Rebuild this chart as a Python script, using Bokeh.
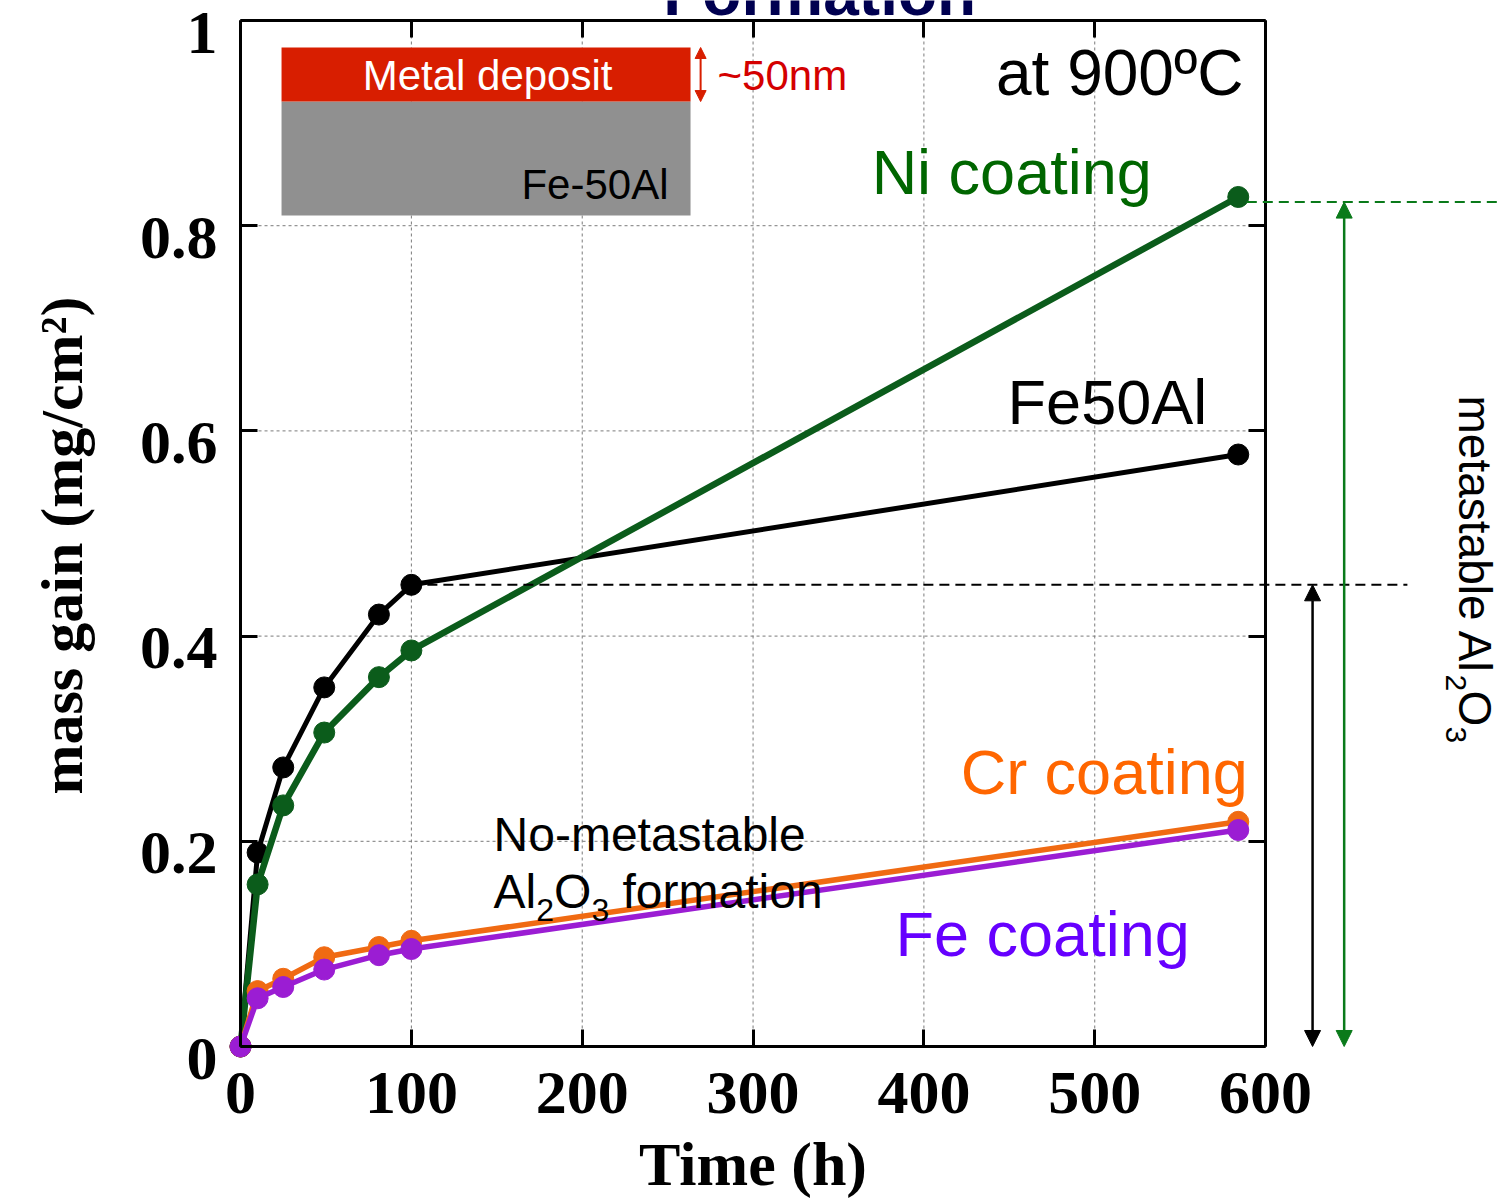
from bokeh.plotting import figure
from bokeh.models import (Range1d, LinearAxis, Label, Arrow, NormalHead,
                          FixedTicker, BoxAnnotation)
from bokeh.embed import file_html
from bokeh.resources import INLINE

# Oxidation at 900 °C: mass gain vs exposure time
time_h = [0, 10, 25, 49, 81, 100, 584]
fe50al = [0.0, 0.189, 0.272, 0.350, 0.421, 0.450, 0.577]
ni_coat = [0.0, 0.158, 0.235, 0.306, 0.360, 0.386, 0.828]
cr_coat = [0.0, 0.054, 0.066, 0.087, 0.097, 0.103, 0.219]
fe_coat = [0.0, 0.047, 0.058, 0.075, 0.089, 0.095, 0.211]

x_ticks = [0, 100, 200, 300, 400, 500, 600]
y_ticks = [0, 0.2, 0.4, 0.6, 0.8, 1]
y_tick_text = ["0", "0.2", "0.4", "0.6", "0.8", "1"]

X_MAX, Y_MAX = 600, 1            # the axes box
# the frame covers the whole canvas; the box sits inside it
X_VIEW = (-140.5, 737.5)
Y_VIEW = (-0.1501, 1.0195)
Y_LABEL_DROP = 0.0117            # y tick labels sit slightly below their ticks

SANS = "Liberation Sans"
SERIF = "Liberation Serif"

p = figure(width=1500, height=1200, output_backend="svg", toolbar_location=None,
           x_range=Range1d(*X_VIEW), y_range=Range1d(*Y_VIEW),
           min_border_left=0, min_border_right=0,
           min_border_top=0, min_border_bottom=0,
           outline_line_color=None, background_fill_color="white",
           border_fill_color="white")
p.extra_y_ranges = {"ylab": Range1d(Y_VIEW[0] + Y_LABEL_DROP, Y_VIEW[1] + Y_LABEL_DROP)}
p.xaxis.visible = False
p.yaxis.visible = False
p.xgrid.visible = False
p.ygrid.visible = False

# dotted grid inside the box
GRID = dict(line_color="#7a7a7a", line_width=1, line_dash="3 3", level="underlay")
inner_x = x_ticks[1:-1]
inner_y = y_ticks[1:-1]
p.segment(x0=inner_x, x1=inner_x, y0=[0] * len(inner_x), y1=[Y_MAX] * len(inner_x), **GRID)
p.segment(x0=[0] * len(inner_y), x1=[X_MAX] * len(inner_y), y0=inner_y, y1=inner_y, **GRID)


def box_axis(ticks, loc, bounds, labels=None, line=True, **kw):
    ax = LinearAxis(ticker=FixedTicker(ticks=ticks), fixed_location=loc, bounds=bounds, **kw)
    ax.axis_line_width = 3
    ax.axis_line_color = "black" if line else None
    ax.major_tick_in = 17 if line else 0
    ax.major_tick_out = 0
    ax.major_tick_line_width = 3
    ax.major_tick_line_color = "black" if line else None
    ax.minor_tick_line_color = None
    ax.major_label_overrides = dict(zip(ticks, labels if labels else [""] * len(ticks)))
    ax.major_label_text_font = SERIF
    ax.major_label_text_font_style = "bold"
    ax.major_label_text_font_size = "62px"
    ax.major_label_text_color = "black"
    return ax


bottom = box_axis(x_ticks, 0, (0, X_MAX), [str(t) for t in x_ticks])
bottom.major_label_standoff = 27
p.add_layout(bottom, "below")

left = box_axis(y_ticks, 0, (0, Y_MAX))
left.major_label_standoff = 0
p.add_layout(left, "left")

# y tick labels on their own (label-only) axis
left_labels = box_axis(y_ticks, 0, (0, Y_MAX), y_tick_text, line=False,
                       y_range_name="ylab")
left_labels.major_label_standoff = 23
p.add_layout(left_labels, "left")

top = box_axis(x_ticks, Y_MAX, (0, X_MAX))
top.major_label_standoff = 0
p.add_layout(top, "above")

right = box_axis(y_ticks, X_MAX, (0, Y_MAX))
right.major_label_standoff = 0
p.add_layout(right, "right")

# data series
series = [
    (fe50al, "#000000", 5),
    (ni_coat, "#0b5c1b", 6.5),
    (cr_coat, "#f06a12", 5.5),
    (fe_coat, "#9b1dd3", 5.5),
]
for ys, color, lw in series:
    p.line(time_h, ys, line_color=color, line_width=lw)
    p.scatter(time_h, ys, size=21, fill_color=color, line_color=color)

# metastable Al2O3 guides
GREEN = "#0a7a1a"
fe_plateau = fe50al[5]
ni_final = ni_coat[-1] - 0.005
p.add_layout(Arrow(start=None, end=None, x_start=100, y_start=fe_plateau,
                   x_end=683, y_end=fe_plateau, line_color="black",
                   line_width=2, line_dash="10 6"))
p.add_layout(Arrow(start=None, end=None, x_start=589, y_start=ni_final,
                   x_end=X_VIEW[1], y_end=ni_final, line_color=GREEN,
                   line_width=2, line_dash="10 6"))
p.add_layout(Arrow(start=NormalHead(size=16, fill_color="black", line_color="black"),
                   end=NormalHead(size=16, fill_color="black", line_color="black"),
                   x_start=627.5, y_start=0, x_end=627.5, y_end=fe_plateau,
                   line_color="black", line_width=2.5))
p.add_layout(Arrow(start=NormalHead(size=16, fill_color=GREEN, line_color=GREEN),
                   end=NormalHead(size=16, fill_color=GREEN, line_color=GREEN),
                   x_start=646, y_start=0, x_end=646, y_end=ni_final,
                   line_color=GREEN, line_width=2.5))

# inset sketch: metal deposit on Fe-50Al
RED = "#d81e00"
p.add_layout(BoxAnnotation(left=24, right=263.4, bottom=0.810, top=0.921,
                           fill_color="#909090", fill_alpha=1, line_color=None))
p.add_layout(BoxAnnotation(left=24, right=263.4, bottom=0.921, top=0.9737,
                           fill_color=RED, fill_alpha=1, line_color=None))
p.add_layout(Arrow(start=NormalHead(size=11, fill_color=RED, line_color=RED),
                   end=NormalHead(size=11, fill_color=RED, line_color=RED),
                   x_start=269.3, y_start=0.921, x_end=269.3, y_end=0.9737,
                   line_color=RED, line_width=2))

HALF_PI = 1.5707963


def add_text(x, y, text, size, color="black", align="left", font=SANS,
             style="normal", angle=0.0):
    # shift so that (x, y) is the alphabetic baseline of the glyphs
    lift = round(0.375 * size)
    if angle > 0:
        xo, yo = -lift, 0
    elif angle < 0:
        xo, yo = lift, 0
    else:
        xo, yo = 0, lift
    p.add_layout(Label(x=x, y=y, text=text, text_font=font,
                       text_font_size=f"{size}px", text_font_style=style,
                       text_color=color, text_align=align,
                       text_baseline="alphabetic", angle=angle,
                       x_offset=xo, y_offset=yo))


# axis titles
add_text(300, -0.1365, "Time (h)", 62, font=SERIF, style="bold", align="center")
add_text(-91.9, 0.4883, "mass gain (mg/cm²)", 60, font=SERIF, style="bold",
         align="center", angle=HALF_PI)

add_text(144.6, 0.931, "Metal deposit", 42, color="white", align="center")
add_text(250.5, 0.8246, "Fe-50Al", 42, align="right")
add_text(279.2, 0.931, "~50nm", 42, color="#d40000")

add_text(339, 1.003, "Formation", 64, color="#000050", align="center", style="bold")
add_text(587.1, 0.925, "at 900ºC", 64, align="right")

add_text(369.4, 0.829, "Ni coating", 63, color="#006600")
add_text(449.0, 0.605, "Fe50Al", 63)
add_text(421.5, 0.2446, "Cr coating", 63, color="#ff6600")
add_text(383.4, 0.0867, "Fe coating", 63, color="#6600ff")

# No-metastable Al2O3 formation
add_text(148.1, 0.189, "No-metastable", 48)
add_text(148.1, 0.1335, "Al", 48)
add_text(173.1, 0.1218, "2", 32)
add_text(183.5, 0.1335, "O", 48)
add_text(205.4, 0.1218, "3", 32)
add_text(223.6, 0.1335, "formation", 48)

# vertical: metastable Al2O3
add_text(712.4, 0.6345, "metastable Al", 46, angle=-HALF_PI)
add_text(704.8, 0.3626, "2", 30, angle=-HALF_PI)
add_text(712.4, 0.347, "O", 46, angle=-HALF_PI)
add_text(704.8, 0.3119, "3", 30, angle=-HALF_PI)

open("out.html", "w").write(file_html(p, INLINE))
